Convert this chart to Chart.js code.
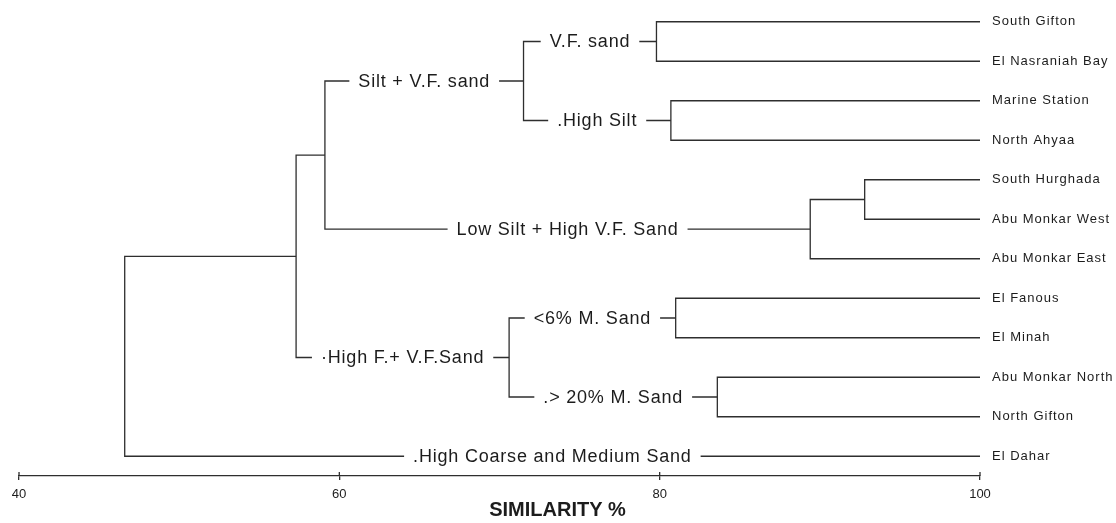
<!DOCTYPE html>
<html>
<head>
<meta charset="utf-8">
<script src="https://cdn.jsdelivr.net/npm/chart.js@4.4.1/dist/chart.umd.min.js"></script>
<style>
  html, body { margin: 0; padding: 0; background: #fff; }
</style>
</head>
<body>
<canvas id="dendrogram" width="1116" height="523"></canvas>
<script>
const sites = ['South Gifton', 'El Nasraniah Bay', 'Marine Station', 'North Ahyaa', 'South Hurghada', 'Abu Monkar West',
  'Abu Monkar East', 'El Fanous', 'El Minah', 'Abu Monkar North', 'North Gifton', 'El Dahar'];

// merges in order; ids 0-11 are the sites, merge k becomes node 12 + k
const mergeLeft = [0, 2, 4, 14, 7, 9, 12, 18, 16, 19, 21];
const mergeRight = [1, 3, 5, 6, 8, 10, 13, 15, 17, 20, 11];
const mergeSimilarity = [79.8, 80.7, 92.8, 89.4, 81.0, 83.6, 71.5, 59.1, 70.6, 57.3, 46.6];

// sediment groups, written on the branch above each node
const groupNodes = [12, 13, 15, 16, 17, 18, 20, 11];
const groupLabels = ['V.F. sand', '.High Silt', 'Low Silt + High V.F. Sand', '<6% M. Sand', '.> 20% M. Sand',
  'Silt + V.F. sand', '\u00b7High F.+ V.F.Sand', '.High Coarse and Medium Sand'];

const xTicks = [40, 60, 80, 100];
const axisTitle = 'SIMILARITY %';

const LINE = '#2e2e2e';
const TEXT = '#1c1c1c';
const FONT = '"Liberation Sans", Arial, sans-serif';

// node positions: sites sit at 100 %, each merge halfway between its two children
const nodes = sites.map((s, i) => ({ x: 100, y: i }));
const parentOf = {};
mergeSimilarity.forEach((sim, k) => {
  const a = nodes[mergeLeft[k]], b = nodes[mergeRight[k]];
  nodes.push({ x: sim, y: (a.y + b.y) / 2 });
  parentOf[mergeLeft[k]] = 12 + k;
  parentOf[mergeRight[k]] = 12 + k;
});

const datasets = mergeSimilarity.map((sim, k) => {
  const a = nodes[mergeLeft[k]], b = nodes[mergeRight[k]];
  return {
    data: [{ x: a.x, y: a.y }, { x: sim, y: a.y }, { x: sim, y: b.y }, { x: b.x, y: b.y }],
    showLine: true,
    borderColor: LINE,
    borderWidth: 1.3,
    pointRadius: 0,
    tension: 0,
    fill: false,
  };
});

const dendroText = {
  id: 'dendroText',
  afterDraw(chart) {
    const { ctx, scales: { x, y } } = chart;
    ctx.save();

    // upper half of the axis ticks
    ctx.strokeStyle = LINE;
    ctx.lineWidth = 1.3;
    xTicks.forEach((v) => {
      const px = x.getPixelForValue(v);
      ctx.beginPath();
      ctx.moveTo(px, x.top - 4);
      ctx.lineTo(px, x.top);
      ctx.stroke();
    });

    // site names at the leaf ends
    ctx.fillStyle = TEXT;
    ctx.font = '13px ' + FONT;
    ctx.letterSpacing = '1px';
    ctx.textAlign = 'left';
    ctx.textBaseline = 'middle';
    sites.forEach((s, i) => ctx.fillText(s, x.getPixelForValue(100) + 12, y.getPixelForValue(i)));

    // group names cut into their branch
    ctx.font = '18px ' + FONT;
    ctx.letterSpacing = '0.8px';
    ctx.textAlign = 'center';
    groupNodes.forEach((id, k) => {
      const n = nodes[id], p = nodes[parentOf[id]];
      const x0 = x.getPixelForValue(p.x), x1 = x.getPixelForValue(n.x);
      const py = y.getPixelForValue(n.y);
      const cx = (x0 + x1) / 2;
      const w = ctx.measureText(groupLabels[k]).width;
      ctx.fillStyle = '#fff';
      ctx.fillRect(cx - w / 2 - 9, py - 12, w + 18, 24);
      ctx.fillStyle = TEXT;
      ctx.fillText(groupLabels[k], cx, py + 1);
    });

    // axis title
    ctx.font = 'bold 20px ' + FONT;
    ctx.letterSpacing = '0px';
    ctx.fillText(axisTitle, (x.left + x.right) / 2 + 58, 510);
    ctx.restore();
  },
};

new Chart(document.getElementById('dendrogram'), {
  type: 'scatter',
  data: { datasets },
  options: {
    responsive: false,
    devicePixelRatio: 1,
    animation: false,
    layout: { padding: { left: 19, right: 136, top: 2, bottom: 0 } },
    plugins: { legend: { display: false }, tooltip: { enabled: false } },
    scales: {
      x: {
        type: 'linear',
        min: 40,
        max: 100,
        afterBuildTicks: (scale) => { scale.ticks = xTicks.map((v) => ({ value: v })); },
        afterFit: (scale) => { scale.height = 47; },
        ticks: { color: TEXT, font: { size: 13, family: FONT }, padding: 7, maxRotation: 0 },
        grid: { drawOnChartArea: false, tickLength: 4, color: LINE, lineWidth: 1.3 },
        border: { display: true, color: LINE, width: 1.3 },
      },
      y: {
        type: 'linear',
        display: false,
        reverse: true,
        min: -0.5,
        max: 11.5,
      },
    },
  },
  plugins: [dendroText],
});
</script>
</body>
</html>
